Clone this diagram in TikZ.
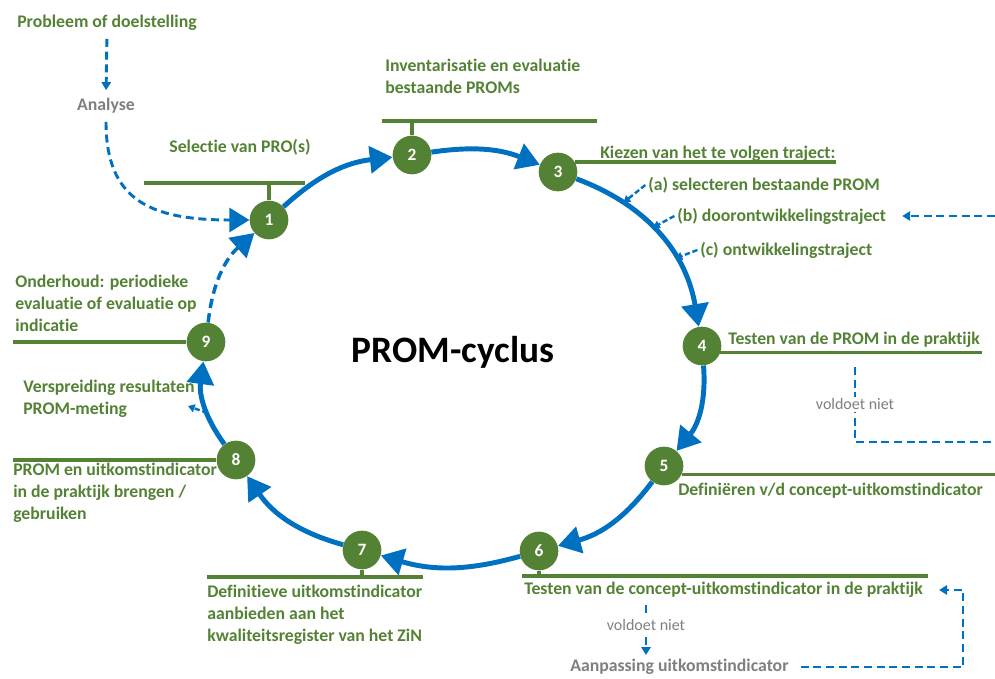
\documentclass[tikz,border=0pt]{standalone}
\usepackage{fontspec}
\setmainfont{Carlito}[Ligatures=NoCommon]
\usepackage{xcolor}
\usepackage{tikz}
\usetikzlibrary{arrows.meta,positioning}
\definecolor{promgreen}{RGB}{84,130,53}
\definecolor{promblue}{RGB}{0,112,192}
\definecolor{promgray}{RGB}{127,127,127}
\def\stap#1#2{\node[stap] (n#1) at (#2) {#1}}
\tikzstyle{stap}=[circle,fill=promgreen,text=white,font=\fontsize{13}{15}\selectfont\bfseries,minimum size=29pt,inner sep=0pt]
\tikzstyle{cyc}=[draw=promblue,line width=3.7pt,-{Triangle[length=17pt,width=20pt]}]
\tikzstyle{lbl}=[text=promgreen,font=\fontsize{13.3}{16.5}\selectfont\bfseries,inner sep=0pt,align=left]
\tikzstyle{grijs}=[text=promgray,font=\fontsize{12}{14}\selectfont,inner sep=1.5pt]
\tikzstyle{balk}=[draw=promgreen,line width=2.6pt]
\tikzstyle{stip}=[draw=promblue,line width=2.2pt,dash pattern=on 6pt off 3.5pt]
\tikzstyle{stippijl}=[stip,-{Triangle[length=6pt,width=7pt]}]
\tikzstyle{stipklein}=[draw=promblue,line width=1.8pt,dash pattern=on 4pt off 2pt,-{Triangle[length=5pt,width=6pt]}]

\begin{document}
\begin{tikzpicture}[x=0.75pt,y=0.75pt]
    \useasboundingbox (0,0) rectangle (995,678);
    % stappen van de cyclus
    \stap{1}{269,458};
    \stap{2}{412,523};
    \stap{3}{558,506};
    \stap{4}{702,332};
    \stap{5}{664,212};
    \stap{6}{539,127};
    \stap{7}{362,128};
    \stap{8}{236,218};
    \stap{9}{206,336};
    \node[font=\fontsize{28}{34}\selectfont\bfseries] (titel) at (453,326) {PROM-cyclus};

    \draw[cyc] (n1) to[bend left=18] (n2);
    \draw[cyc] (n2) to[bend left=15] (n3);
    \draw[cyc] (n3) to[bend left=30] coordinate[pos=.25] (pa) coordinate[pos=.45] (pb) coordinate[pos=.65] (pc) (n4);
    \draw[cyc] (n4) to[bend left=22] (n5);
    \draw[cyc] (n5) to[bend left=19] (n6);
    \draw[cyc] (n6) to[bend left=16] (n7);
    \draw[cyc] (n7) to[bend left=20] (n8);
    \draw[cyc] (n8) to[bend left=22] coordinate[pos=.4] (pv) (n9);
    \draw[cyc,line width=2.6pt,dash pattern=on 7pt off 4pt] (n9) to[bend left=21] (n1);

    % begin
    \node[lbl,anchor=west] (probleem) at (17,655) {Probleem of doelstelling};
    \node[lbl,text=promgray] (analyse) at (106,572) {Analyse};
    \draw[stippijl,shorten <=6pt,shorten >=6pt] (probleem.south) -- (analyse.north);
    \draw[stip,-{Triangle[length=15pt,width=18pt]},shorten <=6pt] (analyse.south) .. controls (106,478) and (150,458) .. (n1);

    % 1 en 2
    \node[lbl] (selectie) at (240,531) {Selectie van PRO(s)};
    \coordinate (b1) at (144,495);
    \draw[balk] (b1) -- ++(161,0);
    \draw[balk] (n1) -- (n1 |- b1);
    \node[lbl,anchor=north west] (inventarisatie) at (385,619) {Inventarisatie en evaluatie\\bestaande PROMs};
    \coordinate (b2) at (382,557);
    \draw[balk] (b2) -- ++(215,0);
    \draw[balk] (n2) -- (n2 |- b2);

    % 3: trajecten
    \node[lbl,anchor=west] (kiezen) at (600,524) {Kiezen van het te volgen traject:};
    \draw[balk] (n3.30) -- (n3.30 -| kiezen.east);
    \node[lbl,anchor=west] (opta) at (648,493) {(a) selecteren bestaande PROM};
    \node[lbl,anchor=west] (optb) at (677,462) {(b) doorontwikkelingstraject};
    \node[lbl,anchor=west] (optc) at (700,428) {(c) ontwikkelingstraject};
    \draw[stipklein] ([xshift=-2pt]opta.west) -- (pa);
    \draw[stipklein] ([xshift=-2pt]optb.west) -- (pb);
    \draw[stipklein] ([xshift=-2pt]optc.west) -- (pc);

    % 4 en terugkoppeling
    \node[lbl,anchor=west] (test4) at (728,338) {Testen van de PROM in de praktijk};
    \draw[balk] (n4.-20) -- ++(262,0);
    \coordinate (v4) at (855,311);
    \coordinate (h4) at (855,236);
    \coordinate (rand4) at (995,236);
    \coordinate (rand3) at (995,462);
    \draw[stip] (v4) -- node[grijs,fill=white] (voldoet4) {voldoet niet} (h4) -- (rand4);
    \draw[stippijl,shorten >=12pt] (rand3) -- (optb.east);

    % 5
    \node[lbl,anchor=west] (def5) at (678,187) {Definiëren v/d concept-uitkomstindicator};
    \draw[balk] (n5.-25) -- (n5.-25 -| rand4);

    % 6 en aanpassing
    \coordinate (b6) at (522,102);
    \draw[balk] (b6) -- ++(406,0);
    \draw[balk] (n6) -- (n6 |- b6);
    \node[lbl,anchor=west] (test6) at (524,88) {Testen van de concept-uitkomstindicator in de praktijk};
    \node[grijs] (voldoet6) at (646,53) {voldoet niet};
    \node[lbl,text=promgray,anchor=west] (aanpassing) at (570,11) {Aanpassing uitkomstindicator};
    \draw[stip] (voldoet6.north) ++(0,4) -- ++(0,9);
    \draw[stippijl,shorten <=3pt,shorten >=3pt] (voldoet6.south) -- (voldoet6.south |- aanpassing.north);
    \coordinate (hoek) at (963,50);
    \draw[stippijl] ([xshift=9pt]aanpassing.east) -| (hoek) |- ([xshift=12pt]test6.east);

    % 7
    \coordinate (b7) at (207,101);
    \draw[balk] (b7) -- ++(216,0);
    \draw[balk] (n7) -- (n7 |- b7);
    \node[lbl,anchor=north west] (def7) at (207,93) {Definitieve uitkomstindicator\\aanbieden aan het\\kwaliteitsregister van het ZiN};

    % 8
    \coordinate (b8) at (13,218);
    \draw[balk] (b8) -- (n8);
    \node[lbl,anchor=north west] (gebruik8) at (13,215) {PROM en uitkomstindicator\\in de praktijk brengen /\\gebruiken};
    \node[lbl,anchor=north west] (verspreiding) at (23,298) {Verspreiding resultaten\\PROM-meting};
    \coordinate (vtip) at (188,272);
    \draw[stipklein] (pv) -- (vtip);

    % 9
    \coordinate (b9) at (13,336);
    \draw[balk] (b9) -- (n9);
    \node[lbl,anchor=north west] (onderhoud) at (15,403) {Onderhoud: periodieke\\evaluatie of evaluatie op\\indicatie};
\end{tikzpicture}
\end{document}
